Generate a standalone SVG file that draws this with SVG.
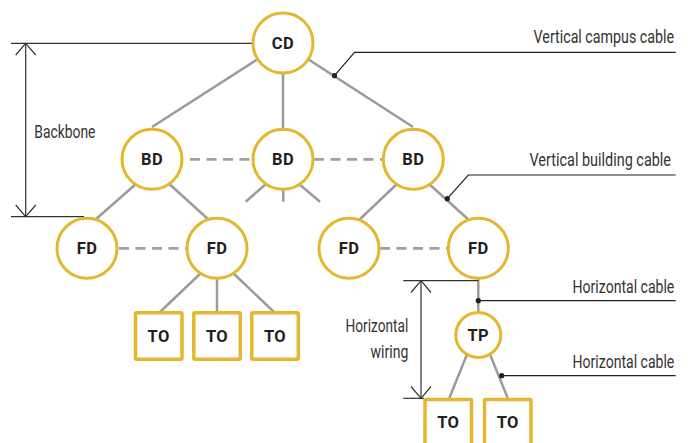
<svg xmlns="http://www.w3.org/2000/svg" width="692" height="443" viewBox="0 0 692 443">
<style>
.node{fill:#fff;stroke:#E5B731;stroke-width:3}
.box{fill:#fff;stroke:#E5B731;stroke-width:3.5}
.lbl{font-family:Roboto,"Liberation Sans",sans-serif;font-weight:bold;font-size:16.5px;fill:#231F20;text-anchor:middle;letter-spacing:0.4px}
.cab{stroke:#9B9B9B;stroke-width:2.5;fill:none}
.dash{stroke:#A0A0A0;stroke-width:2.8;fill:none;stroke-dasharray:10 6.5}
.lead{stroke:#222;stroke-width:1.2;fill:none}
.dim{stroke:#333;stroke-width:1.2;fill:none}
.txt{font-family:Roboto,"Liberation Sans",sans-serif;font-size:19px;fill:#333}
.r{text-anchor:end}
</style>
<g id="connectors">
<line class="cab" x1="283" y1="43" x2="152" y2="127"/>
<line class="cab" x1="283" y1="43" x2="283" y2="128"/>
<line class="cab" x1="283" y1="43" x2="413" y2="127"/>
<line class="dash" x1="190" y1="159.3" x2="252" y2="159.3"/>
<line class="dash" x1="314" y1="159.3" x2="383" y2="159.3"/>
<line class="cab" x1="137" y1="183" x2="95" y2="220"/>
<line class="cab" x1="166" y1="181" x2="209" y2="220"/>
<line class="cab" x1="266" y1="184" x2="245.7" y2="201.7"/>
<line class="cab" x1="283.3" y1="185" x2="283.3" y2="201.7"/>
<line class="cab" x1="299" y1="184" x2="320" y2="201.7"/>
<line class="cab" x1="398" y1="183" x2="358" y2="221"/>
<line class="cab" x1="428" y1="183" x2="470" y2="221"/>
<line class="dash" x1="119" y1="248.3" x2="186" y2="248.3"/>
<line class="dash" x1="380" y1="248.3" x2="447" y2="248.3"/>
<line class="cab" x1="202" y1="272" x2="160" y2="312"/>
<line class="cab" x1="217" y1="275" x2="217" y2="312"/>
<line class="cab" x1="232" y1="272" x2="274" y2="312"/>
<line class="cab" x1="478.3" y1="275" x2="478.3" y2="314"/>
<line class="cab" x1="468" y1="352" x2="449.3" y2="398"/>
<line class="cab" x1="489" y1="352" x2="507.7" y2="398"/>
</g>
<g id="annotations">
<polyline class="lead" points="334.5,75.7 354.5,52.3 675.7,52.3"/>
<circle cx="334.5" cy="75.7" r="2.6" fill="#222"/>
<text class="txt r" transform="translate(674 42.7) scale(0.75 1)">Vertical campus cable</text>
<polyline class="lead" points="447.3,198.7 468.3,175 675.7,175"/>
<circle cx="447.3" cy="198.7" r="2.6" fill="#222"/>
<text class="txt r" transform="translate(671 165.7) scale(0.76 1)">Vertical building cable</text>
<line class="lead" x1="478.3" y1="300.7" x2="675.7" y2="300.7"/>
<circle cx="478.3" cy="300.7" r="2.6" fill="#222"/>
<text class="txt r" transform="translate(674.3 293.3) scale(0.74 1)">Horizontal cable</text>
<line class="lead" x1="501.7" y1="375.7" x2="675.7" y2="375.7"/>
<circle cx="501.7" cy="375.7" r="2.6" fill="#222"/>
<text class="txt r" transform="translate(674.3 368.3) scale(0.74 1)">Horizontal cable</text>
<line class="dim" x1="11" y1="43.3" x2="253" y2="43.3"/>
<line class="dim" x1="11" y1="216.7" x2="84" y2="216.7"/>
<line class="dim" x1="25.7" y1="43.3" x2="25.7" y2="216.7"/>
<polyline class="dim" points="15.7,55 25.7,43.3 35.7,55"/>
<polyline class="dim" points="15.7,205 25.7,216.7 35.7,205"/>
<text class="txt" transform="translate(34.3 138) scale(0.73 1)">Backbone</text>
<line class="dim" x1="403.3" y1="280.7" x2="478.3" y2="280.7"/>
<line class="dim" x1="403.3" y1="398.3" x2="424" y2="398.3"/>
<line class="dim" x1="421" y1="280.7" x2="421" y2="398.3"/>
<polyline class="dim" points="411,292.5 421,280.7 431,292.5"/>
<polyline class="dim" points="411,386.5 421,398.3 431,386.5"/>
<text class="txt r" transform="translate(408.3 331.7) scale(0.72 1)">Horizontal</text>
<text class="txt r" transform="translate(408.3 357.7) scale(0.74 1)">wiring</text>
</g>
<g id="cd"><circle class="node" cx="283" cy="43" r="30"/><text class="lbl" x="283" y="49">CD</text></g>
<g id="bd1"><circle class="node" cx="152" cy="159.3" r="30"/><text class="lbl" x="152" y="165.3">BD</text></g>
<g id="bd2"><circle class="node" cx="283" cy="159.3" r="30"/><text class="lbl" x="283" y="165.3">BD</text></g>
<g id="bd3"><circle class="node" cx="413.3" cy="159.3" r="30"/><text class="lbl" x="413.3" y="165.3">BD</text></g>
<g id="fd1"><circle class="node" cx="87" cy="248.3" r="30"/><text class="lbl" x="87" y="254.3">FD</text></g>
<g id="fd2"><circle class="node" cx="217" cy="248.3" r="30"/><text class="lbl" x="217" y="254.3">FD</text></g>
<g id="fd3"><circle class="node" cx="349" cy="248.3" r="30"/><text class="lbl" x="349" y="254.3">FD</text></g>
<g id="fd4"><circle class="node" cx="478.3" cy="248.3" r="30"/><text class="lbl" x="478.3" y="254.3">FD</text></g>
<g id="tp"><circle class="node" cx="478.3" cy="335" r="22.5"/><text class="lbl" x="478.3" y="341">TP</text></g>
<g id="to1"><rect class="box" x="135.5" y="312.8" width="46.5" height="46.5" rx="1"/><text class="lbl" x="158.7" y="342">TO</text></g>
<g id="to2"><rect class="box" x="193.8" y="312.8" width="46.5" height="46.5" rx="1"/><text class="lbl" x="217" y="342">TO</text></g>
<g id="to3"><rect class="box" x="251.8" y="312.8" width="46.5" height="46.5" rx="1"/><text class="lbl" x="275" y="342">TO</text></g>
<g id="to4"><rect class="box" x="425" y="399.5" width="46.5" height="46.5" rx="1"/><text class="lbl" x="448.3" y="428.3">TO</text></g>
<g id="to5"><rect class="box" x="484.5" y="399.5" width="46.5" height="46.5" rx="1"/><text class="lbl" x="507.8" y="428.3">TO</text></g>
</svg>
